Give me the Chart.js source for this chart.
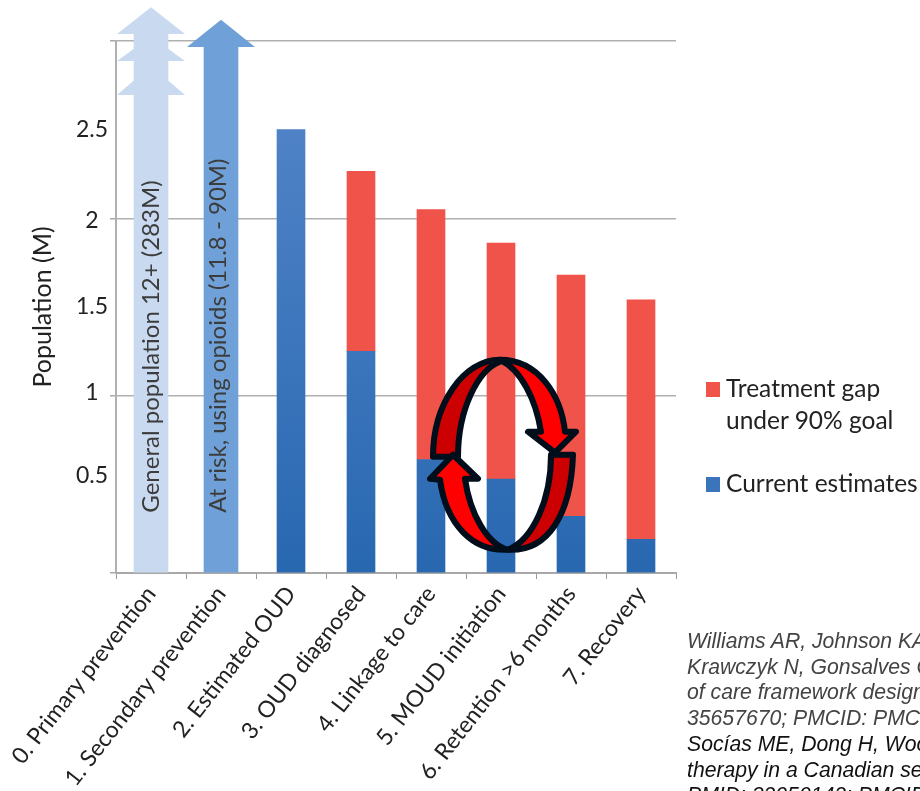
<!DOCTYPE html>
<html>
<head>
<meta charset="utf-8">
<title>OUD cascade of care</title>
<script src="https://cdn.jsdelivr.net/npm/chart.js@4"></script>
<style>
    html, body { margin: 0; width: 920px; height: 791px; overflow: hidden; background: #fff; }
    #wrap { position: relative; width: 920px; height: 791px; overflow: hidden; }
    #legend div { position: absolute; font: 24.5px Lato, sans-serif; color: #222; white-space: nowrap; line-height: 32px; }
    #legend span { position: absolute; width: 14px; height: 15px; }
    #cite { position: absolute; left: 687px; top: 628px; font: italic 21.2px/25.7px "Liberation Sans", sans-serif; white-space: nowrap; color: #444; }
    #cite b { font-weight: normal; color: #111; }
</style>
</head>
<body>
<div id="wrap">
    <canvas id="chart" width="920" height="791"></canvas>
    <div id="legend">
        <span style="left:706px;top:382px;background:#ef5349"></span>
        <div style="left:726px;top:372px">Treatment gap<br>under 90% goal</div>
        <span style="left:706px;top:477px;background:#3a75bb"></span>
        <div style="left:726px;top:467px">Current estimates</div>
    </div>
    <div id="cite">
        Williams AR, Johnson KA<br>
        Krawczyk N, Gonsalves G<br>
        of care framework design<br>
        35657670; PMCID: PMC<br>
        <b>Socías ME, Dong H, Woo</b><br>
        <b>therapy in a Canadian se</b><br>
        <b>PMID: 32050142; PMCID</b>
    </div>
</div>
<script>
// categories and values (millions)
const categories = ['0. Primary prevention', '1. Secondary prevention', '2. Estimated OUD', '3. OUD diagnosed',
    '4. Linkage to care', '5. MOUD initiation', '6. Retention >6 months', '7. Recovery'];
const currentEstimates = [null, null, 2.5, 1.25, 0.64, 0.53, 0.32, 0.19];
const treatmentGap = [null, null, null, 1.015, 1.41, 1.33, 1.36, 1.35];
const arrowShafts = [3.04, 2.97, null, null, null, null, null, null];
const arrowTips = [3.19, 3.12];
const arrowBases = [[3.04, 2.887, 2.695], [2.966]];
const arrowSpikeHeights = [0.15, 0.14, 0.165];
const arrowLabels = ['General population 12+ (283M)', 'At risk, using opioids (11.8 - 90M)'];
// gridlines sit on whole numbers, the tick labels are hand placed in the original
const yGridValues = [0, 1, 2, 3];
const yLabelValues = [0.55, 1.02, 1.5, 1.985, 2.5];
const yLabelTexts = ['0.5', '1', '1.5', '2', '2.5'];

function blueFill(ctx) {
    const area = ctx.chart.chartArea;
    if (!area) return '#3a75bb';
    const g = ctx.chart.ctx.createLinearGradient(0, ctx.chart.scales.y.getPixelForValue(2.5), 0, area.bottom);
    g.addColorStop(0, '#4f82c6');
    g.addColorStop(1, '#2868b1');
    return g;
}

function shaftFill(ctx) {
    return ctx.dataIndex === 0 ? '#c9daf0' : '#6fa1d8';
}

function gridOnly(color) {
    return ctx => (ctx.tick && yGridValues.includes(ctx.tick.value) ? color : 'rgba(0,0,0,0)');
}

// arrow heads above the two prevention bars
const arrowHeads = {
    id: 'arrowHeads',
    afterDatasetsDraw(chart) {
        const c = chart.ctx, x = chart.scales.x, y = chart.scales.y;
        arrowTips.forEach((tip, i) => {
            const cx = x.getPixelForValue(i);
            c.fillStyle = i === 0 ? '#c9daf0' : '#6fa1d8';
            arrowBases[i].forEach((base, j) => {
                const top = j === 0 ? tip : base + arrowSpikeHeights[j];
                c.beginPath();
                c.moveTo(cx, y.getPixelForValue(top));
                c.lineTo(cx + 34, y.getPixelForValue(base));
                c.lineTo(cx - 34, y.getPixelForValue(base));
                c.closePath();
                c.fill();
            });
            // vertical label inside the shaft
            c.save();
            c.translate(cx + (i === 0 ? 0 : -3), y.getPixelForValue(0.34));
            c.rotate(-Math.PI / 2);
            c.fillStyle = '#3c3c3c';
            c.font = '24px Lato, sans-serif';
            c.textAlign = 'left';
            c.textBaseline = 'middle';
            c.fillText(arrowLabels[i], 0, 0);
            c.restore();
        });
    }
};

// ring of two arrows drawn over bar 5
const ringArrows = {
    id: 'ringArrows',
    afterDraw(chart) {
        const c = chart.ctx;
        const cx = chart.scales.x.getPixelForValue(5) + 2;
        const cy = chart.scales.y.getPixelForValue(0.667);
        c.save();
        c.translate(cx, cy);
        c.lineWidth = 6;
        c.lineJoin = 'round';
        c.strokeStyle = '#000d1a';

        c.fillStyle = '#cc0000';
        c.beginPath();
        c.moveTo(-3, -95);
        c.bezierCurveTo(-40, -95, -70, -50, -70, 2);
        c.lineTo(-45, 2);
        c.bezierCurveTo(-45, -45, -25, -85, -3, -93);
        c.closePath();
        c.fill();
        c.stroke();

        c.fillStyle = '#ff0000';
        c.beginPath();
        c.moveTo(-3, -95);
        c.bezierCurveTo(35, -95, 58, -60, 62, -23);
        c.lineTo(73, -23);
        c.lineTo(52, -2);
        c.lineTo(25, -23);
        c.lineTo(38, -23);
        c.bezierCurveTo(33, -55, 18, -85, -3, -95);
        c.closePath();
        c.fill();
        c.stroke();

        c.fillStyle = '#cc0000';
        c.beginPath();
        c.moveTo(70, 0);
        c.lineTo(48, 0);
        c.bezierCurveTo(48, 45, 30, 85, 5, 95);
        c.bezierCurveTo(45, 97, 68, 60, 70, 0);
        c.closePath();
        c.fill();
        c.stroke();

        c.fillStyle = '#ff0000';
        c.beginPath();
        c.moveTo(-50, 0);
        c.lineTo(-25, 24);
        c.lineTo(-38, 24);
        c.bezierCurveTo(-33, 60, -15, 90, 5, 95);
        c.bezierCurveTo(-30, 97, -57, 70, -63, 25);
        c.lineTo(-73, 24);
        c.closePath();
        c.fill();
        c.stroke();
        c.restore();
    }
};

new Chart(document.getElementById('chart').getContext('2d'), {
    type: 'bar',
    data: {
        labels: categories,
        datasets: [
            { label: 'Prevention', data: arrowShafts, backgroundColor: shaftFill, barThickness: 34, stack: 'a', clip: false },
            { label: 'Current estimates', data: currentEstimates, backgroundColor: blueFill, barThickness: 28, stack: 'a' },
            { label: 'Treatment gap under 90% goal', data: treatmentGap, backgroundColor: '#ef5349', barThickness: 28, stack: 'a' }
        ]
    },
    options: {
        responsive: false,
        animation: false,
        layout: { padding: { left: 24, top: 41, right: 244, bottom: 0 } },
        plugins: { legend: { display: false }, tooltip: { enabled: false } },
        scales: {
            x: {
                stacked: true,
                afterFit(scale) { scale.height = 218; },
                grid: { drawOnChartArea: false, color: '#9a9a9a', tickLength: 6 },
                border: { color: '#a8a8a8', width: 2 },
                ticks: {
                    autoSkip: false, minRotation: 52, maxRotation: 52, padding: 2,
                    color: '#222', font: { family: 'Lato, sans-serif', size: 23 }
                }
            },
            y: {
                stacked: true,
                min: 0,
                max: 3,
                afterFit(scale) { scale.width = 92; },
                afterBuildTicks(scale) {
                    scale.ticks = [...yGridValues, ...yLabelValues].sort((a, b) => a - b).map(v => ({ value: v }));
                },
                title: { display: true, text: 'Population (M)', color: '#222', font: { family: 'Lato, sans-serif', size: 25 } },
                grid: {
                    color: gridOnly('#b0b0b0'),
                    tickColor: gridOnly('#a8a8a8'),
                    lineWidth: 1.5,
                    tickLength: 6
                },
                border: { color: '#b0b0b0', width: 2 },
                ticks: {
                    autoSkip: false, crossAlign: 'center',
                    color: '#222', padding: 2, font: { family: 'Lato, sans-serif', size: 23 },
                    callback: v => {
                        const i = yLabelValues.indexOf(v);
                        return i < 0 ? '' : yLabelTexts[i];
                    }
                }
            }
        }
    },
    plugins: [arrowHeads, ringArrows]
});
</script>
</body>
</html>
